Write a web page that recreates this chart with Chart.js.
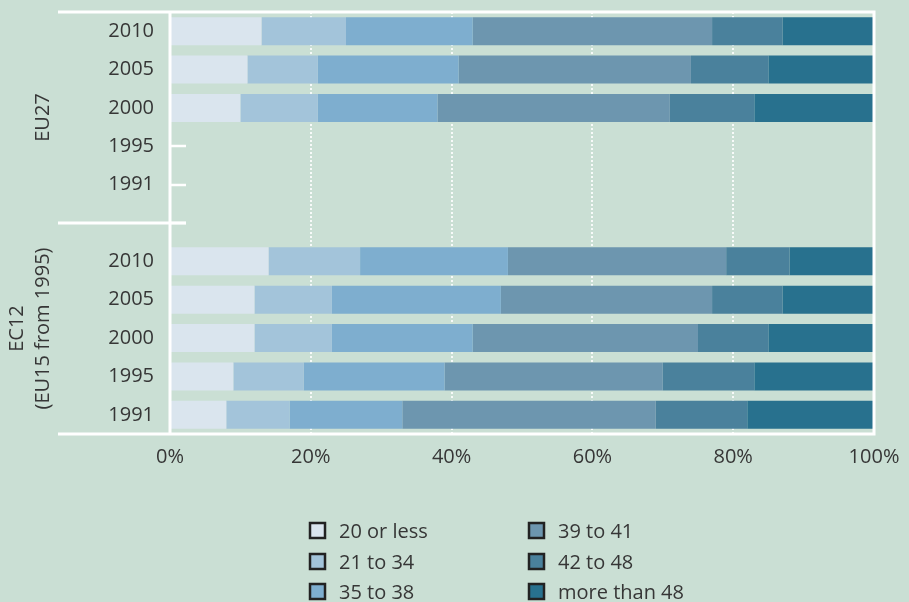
<!DOCTYPE html>
<html>
<head>
<meta charset="utf-8">
<script src="https://cdn.jsdelivr.net/npm/chart.js@4/dist/chart.umd.min.js"></script>
<style>
  html, body { margin: 0; padding: 0; background: #cadfd4; }
  #wrap { width: 909px; height: 602px; position: relative; }
</style>
</head>
<body>
<div id="wrap"><canvas id="c" width="909" height="602"></canvas></div>
<script>
// Rows: EU27 block, an empty spacer row, then the EC12 block
const years = ['2010', '2005', '2000', '1995', '1991', '', '2010', '2005', '2000', '1995', '1991'];
const bands = ['20 or less', '21 to 34', '35 to 38', '39 to 41', '42 to 48', 'more than 48'];
const groupNames = [['EU27'], ['EC12', '(EU15 from 1995)']];
const xTicks = [0, 20, 40, 60, 80, 100];

// Share of employees (%) by usual weekly working hours
const hours20orLess = [13, 11, 10, null, null, null, 14, 12, 12,  9,  8];
const hours21to34   = [12, 10, 11, null, null, null, 13, 11, 11, 10,  9];
const hours35to38   = [18, 20, 17, null, null, null, 21, 24, 20, 20, 16];
const hours39to41   = [34, 33, 33, null, null, null, 31, 30, 32, 31, 36];
const hours42to48   = [10, 11, 12, null, null, null,  9, 10, 10, 13, 13];
const hoursOver48   = [13, 15, 17, null, null, null, 12, 13, 15, 17, 18];

const bandColors = ['#dae5ee', '#a3c4da', '#7eaecf', '#6d96af', '#4a819c', '#28718e'];
const series = [hours20orLess, hours21to34, hours35to38, hours39to41, hours42to48, hoursOver48];

const FONT = '"Open Sans", "DejaVu Sans", sans-serif';
const TEXT = '#363636';
const FS = 20;

const frame = {
  id: 'frame',
  beforeDatasetsDraw(chart) {
    const { ctx, chartArea: a, scales: { y } } = chart;
    ctx.save();
    ctx.strokeStyle = '#ffffff';
    ctx.lineWidth = 2.5;
    years.forEach((_, i) => {
      const py = Math.round(y.getPixelForValue(i));
      ctx.beginPath();
      ctx.moveTo(a.left, py);
      ctx.lineTo(a.left + 16, py);
      ctx.stroke();
    });
    ctx.restore();
  },
  afterDatasetsDraw(chart) {
    const { ctx, chartArea: a, scales: { y } } = chart;
    const x0 = 58;
    ctx.save();
    ctx.strokeStyle = '#ffffff';
    ctx.lineWidth = 3;
    ctx.beginPath();
    ctx.moveTo(x0, a.top); ctx.lineTo(a.right + 1.5, a.top);
    ctx.moveTo(x0, a.bottom); ctx.lineTo(a.right + 1.5, a.bottom);
    ctx.moveTo(a.left, a.top); ctx.lineTo(a.left, a.bottom);
    ctx.moveTo(a.right, a.top); ctx.lineTo(a.right, a.bottom);
    const sep = Math.round(y.getPixelForValue(5));
    ctx.moveTo(x0, sep); ctx.lineTo(a.left + 16, sep);
    ctx.stroke();
    ctx.restore();
  },
  afterDraw(chart) {
    const { ctx, chartArea: a, scales: { y } } = chart;
    ctx.save();
    ctx.fillStyle = TEXT;
    ctx.font = FS + 'px ' + FONT;
    ctx.textAlign = 'center';
    ctx.textBaseline = 'middle';
    // rotated group names
    const sep = y.getPixelForValue(5);
    const spans = [[a.top, sep], [sep, a.bottom]];
    groupNames.forEach((lines, g) => {
      const cy = (spans[g][0] + spans[g][1]) / 2;
      ctx.save();
      ctx.translate(43, cy);
      ctx.rotate(-Math.PI / 2);
      lines.forEach((t, k) => {
        ctx.fillText(t, 0, (k - (lines.length - 1)) * 26);
      });
      ctx.restore();
    });
    // legend in two columns
    ctx.textAlign = 'left';
    const colX = [309, 528];
    const rowY = [531, 562, 592];
    chart.data.datasets.forEach((ds, i) => {
      const bx = colX[Math.floor(i / 3)];
      const by = rowY[i % 3];
      ctx.fillStyle = ds.backgroundColor;
      ctx.fillRect(bx + 1, by - 8, 15, 15);
      ctx.strokeStyle = '#222222';
      ctx.lineWidth = 2.5;
      ctx.strokeRect(bx + 1, by - 8, 15, 15);
      ctx.fillStyle = TEXT;
      ctx.fillText(ds.label, bx + 30, by + 1);
    });
    ctx.restore();
  }
};

new Chart(document.getElementById('c'), {
  type: 'bar',
  data: {
    labels: years,
    datasets: bands.map((b, i) => ({
      label: b,
      data: series[i],
      backgroundColor: bandColors[i],
      borderWidth: 0,
      categoryPercentage: 1,
      barPercentage: 0.73
    }))
  },
  options: {
    indexAxis: 'y',
    responsive: false,
    animation: false,
    devicePixelRatio: 1,
    layout: { padding: { top: 12, right: 35, left: 0, bottom: 0 } },
    plugins: { legend: { display: false }, tooltip: { enabled: false } },
    scales: {
      x: {
        stacked: true,
        min: 0, max: 100,
        afterBuildTicks(s) { s.ticks = xTicks.map(v => ({ value: v })); },
        afterFit(s) { s.height = 168; s.paddingLeft = 0; s.paddingRight = 0; },
        grid: { color: 'rgba(255,255,255,0.85)', lineWidth: 2, drawTicks: false },
        border: { display: false, dash: [2, 2] },
        ticks: {
          padding: 11,
          color: TEXT,
          font: { family: FONT, size: FS },
          callback: v => v + '%'
        }
      },
      y: {
        stacked: true,
        afterFit(s) { s.width = 170; s.paddingTop = 0; s.paddingBottom = 0; },
        grid: { display: false, drawTicks: false },
        border: { display: false },
        ticks: {
          padding: 16,
          color: TEXT,
          font: { family: FONT, size: FS }
        }
      }
    }
  },
  plugins: [frame]
});
</script>
</body>
</html>
